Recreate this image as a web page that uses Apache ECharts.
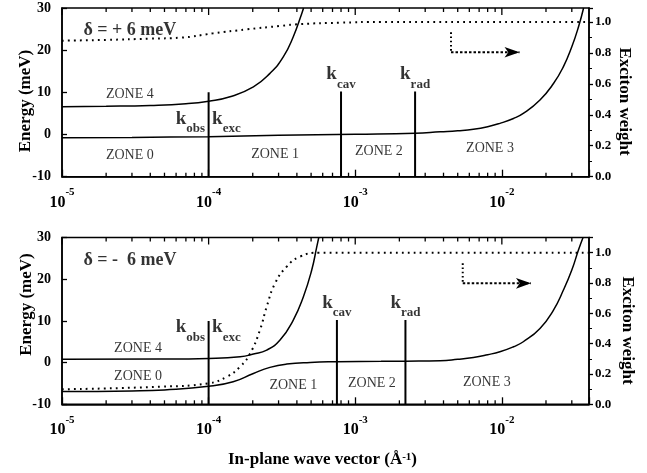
<!DOCTYPE html>
<html><head><meta charset="utf-8">
<script src="https://cdn.jsdelivr.net/npm/echarts@6/dist/echarts.min.js"></script>
<style>html,body{margin:0;padding:0;background:#fff}#chart{width:647px;height:473px}</style>
</head><body><div id="chart"></div>
<script>
// ---------------- data ----------------
const xMajorTicks = [1e-5, 1e-4, 1e-3, 1e-2];
const xMinorTicks = [2e-5,3e-5,4e-5,5e-5,6e-5,7e-5,8e-5,9e-5,
                     2e-4,3e-4,4e-4,5e-4,6e-4,7e-4,8e-4,9e-4,
                     2e-3,3e-3,4e-3,5e-3,6e-3,7e-3,8e-3,9e-3,
                     2e-2,3e-2];
const xMin = 1e-5, xMax = 0.0393;

// top panel (delta = +6 meV)
const topUpperBranch = [[1e-5,6.6],[2e-5,6.7],[4e-5,6.9],[7e-5,7.3],[1e-4,7.9],[1.4e-4,8.95],[2.02e-4,11.3],[2.62e-4,14.5],[3.23e-4,18.4],[3.78e-4,23.2],[4.32e-4,28.7],[4.44e-4,30]];
const topLowerBranch = [[1e-5,-0.75],[3e-5,-0.68],[1e-4,-0.5],[3e-4,-0.2],[1e-3,0.05],[2.56e-3,0.3],[3.8e-3,0.65],[5e-3,0.9],[6.4e-3,1.25],[8e-3,1.85],[9.7e-3,2.65],[1.2e-2,3.8],[1.4e-2,5.0],[1.82e-2,8.2],[2.25e-2,12.1],[2.63e-2,16.1],[3.0e-2,20.8],[3.33e-2,25.5],[3.61e-2,30]];
const topExcitonWeight = [[1e-5,0.879],[2e-5,0.884],[4e-5,0.892],[6.4e-5,0.898],[1.07e-4,0.926],[1.82e-4,0.952],[3.07e-4,0.974],[4.2e-4,0.986],[7.9e-4,0.995],[1.5e-3,1.0],[0.0393,1.0]];
const topMarkerK = [1e-4, 8.0e-4, 2.56e-3];
const topMarkerTopE = [10, 10.2, 10.2];
const topArrow = [[4.5e-3,0.933],[4.5e-3,0.804],[1.32e-2,0.804]];
const topZones = [['ZONE 4',2.9e-5,9.5],['ZONE 0',2.9e-5,-4.85],['ZONE 1',2.84e-4,-4.6],['ZONE 2',1.45e-3,-4.1],['ZONE 3',8.3e-3,-3.3]];
const topDetuning = ['δ = + 6 meV', 1.39e-5, 24.75];
const topObsExcE = 2.85;

// bottom panel (delta = -6 meV)
const bottomUpperBranch = [[1e-5,0.8],[4.66e-5,0.85],[1e-4,1.0],[1.64e-4,1.4],[2.02e-4,2.05],[2.49e-4,3.0],[3.07e-4,5.4],[3.78e-4,10.2],[4.43e-4,15.8],[5.05e-4,22.2],[5.46e-4,27.7],[5.64e-4,30]];
const bottomLowerBranch = [[1e-5,-6.95],[3e-5,-6.8],[5e-5,-6.55],[1e-4,-5.7],[1.47e-4,-4.6],[2.02e-4,-2.6],[2.62e-4,-1.15],[3.41e-4,-0.35],[4.92e-4,0.05],[7.48e-4,0.2],[1.5e-3,0.3],[2.2e-3,0.35],[3.79e-3,0.45],[5e-3,0.8],[6.4e-3,1.25],[8e-3,1.9],[9.7e-3,2.6],[1.2e-2,3.8],[1.4e-2,5.0],[1.82e-2,8.2],[2.25e-2,12.6],[2.63e-2,17.4],[3.0e-2,22.2],[3.33e-2,27.0],[3.58e-2,30]];
const bottomExcitonWeight = [[1e-5,0.099],[4.66e-5,0.116],[1e-4,0.139],[1.33e-4,0.182],[1.64e-4,0.248],[1.92e-4,0.336],[2.24e-4,0.49],[2.49e-4,0.644],[2.84e-4,0.798],[3.41e-4,0.908],[4.2e-4,0.974],[5.7e-4,1.0],[0.0393,1.0]];
const bottomMarkerK = [1e-4, 7.5e-4, 2.2e-3];
const bottomMarkerTopE = [10, 10.2, 10.2];
const bottomArrow = [[5.41e-3,0.93],[5.41e-3,0.798],[1.58e-2,0.798]];
const bottomZones = [['ZONE 4',3.3e-5,3.4],['ZONE 0',3.3e-5,-3.4],['ZONE 1',3.78e-4,-5.4],['ZONE 2',1.3e-3,-5.0],['ZONE 3',7.9e-3,-4.7]];
const bottomDetuning = ['δ = -  6 meV', 1.39e-5, 24.6];
const bottomObsExcE = 7.6;

const markerSubs = ['exc', 'cav', 'rad'];
const energyTicks = {min: -10, max: 30, interval: 10};
const weightTicks = {min: 0, interval: 0.2};

// ---------------- styles ----------------
const SERIF = 'Liberation Serif';
const BLACK = '#000';
const kRich = {
  k: {fontFamily: SERIF, fontWeight: 'bold', fontSize: 19, lineHeight: 26, verticalAlign: 'top', color: BLACK},
  s: {fontFamily: SERIF, fontWeight: 'bold', fontSize: 13, lineHeight: 13, verticalAlign: 'bottom', color: BLACK}
};
const supRich = {
  b: {fontFamily: SERIF, fontWeight: 'bold', fontSize: 16, lineHeight: 24, verticalAlign: 'bottom', color: BLACK},
  s: {fontFamily: SERIF, fontWeight: 'bold', fontSize: 11, lineHeight: 11, verticalAlign: 'top', color: BLACK}
};

function xAxisFor(grid) {
  return {
    type: 'log', logBase: 10, gridIndex: grid, min: xMin, max: xMax,
    axisLine: {onZero: false, lineStyle: {color: BLACK, width: 1.5}},
    axisTick: {inside: true, length: 7, lineStyle: {color: BLACK, width: 1.3}},
    splitLine: {show: false},
    axisLabel: {
      margin: 10, rich: supRich,
      formatter: v => {
        const e = Math.round(Math.log10(v));
        if (Math.abs(v - Math.pow(10, e)) / v > 1e-6) return '';
        return '{b|10}{s|' + e + '}';
      }
    }
  };
}
function energyAxis(grid) {
  return {
    type: 'value', gridIndex: grid, position: 'left', ...energyTicks,
    axisLine: {show: true, onZero: false, lineStyle: {color: BLACK, width: 1.5}},
    axisTick: {show: true, inside: true, length: 5, lineStyle: {color: BLACK, width: 1.3}},
    splitLine: {show: false},
    axisLabel: {margin: 11, fontFamily: SERIF, fontWeight: 'bold', fontSize: 14, color: BLACK}
  };
}
function weightAxis(grid, max) {
  return {
    type: 'value', gridIndex: grid, position: 'right', ...weightTicks, max: max,
    axisLine: {show: true, onZero: false, lineStyle: {color: BLACK, width: 1.5}},
    axisTick: {show: true, inside: false, length: 4, lineStyle: {color: BLACK, width: 1.3}},
    minorTick: {show: true, splitNumber: 2, length: 3, lineStyle: {color: BLACK, width: 1}},
    splitLine: {show: false},
    axisLabel: {margin: 6, showMaxLabel: false, fontFamily: SERIF, fontWeight: 'bold', fontSize: 13, color: BLACK,
      formatter: v => (Math.abs(v - Math.round(v * 10) / 10) < 1e-6 ? v.toFixed(1) : '')}
  };
}
function solid(data, xi, yi) {
  return {type: 'line', xAxisIndex: xi, yAxisIndex: yi, data: data, symbol: 'none', smooth: 0.5,
    lineStyle: {color: BLACK, width: 1.5}, silent: true, z: 3};
}
function dotted(data, xi, yi) {
  return {type: 'line', xAxisIndex: xi, yAxisIndex: yi, data: data, symbol: 'none', smooth: 0.5,
    lineStyle: {color: BLACK, width: 2, type: [1.8, 4.2]}, silent: true, z: 3};
}
function markers(ks, tops, xi, yi) {
  return ks.map((k, i) => ({type: 'line', xAxisIndex: xi, yAxisIndex: yi, symbol: 'none', silent: true, z: 4,
    data: [[k, energyTicks.min], [k, tops[i]]], lineStyle: {color: BLACK, width: 2}}));
}
function arrow(pts, xi, yi) {
  return [
    {type: 'line', xAxisIndex: xi, yAxisIndex: yi, symbol: 'none', silent: true, z: 4,
     data: [pts[0], pts[1]], lineStyle: {color: BLACK, width: 2, type: [1.6, 2.6]}},
    {type: 'line', xAxisIndex: xi, yAxisIndex: yi, symbol: 'none', showSymbol: true, silent: true, z: 4,
     data: [pts[1], {value: pts[2], symbol: 'arrow', symbolSize: [8, 15], symbolRotate: -90, itemStyle: {color: BLACK}}],
     lineStyle: {color: BLACK, width: 2, type: [2.5, 2]}}
  ];
}
function annotations(zones, det, ks, tops, obsE, xi, yi) {
  const data = [];
  zones.forEach(z => data.push({value: [z[1], z[2]], label: {show: true, position: 'inside', formatter: z[0],
    fontFamily: SERIF, fontSize: 14, color: BLACK}}));
  data.push({value: [det[1], det[2]], label: {show: true, position: 'right', distance: 0, formatter: det[0],
    fontFamily: SERIF, fontWeight: 'bold', fontSize: 18, color: BLACK}});
  data.push({value: [ks[0], obsE], label: {show: true, position: 'left', distance: 3, formatter: '{k|k}{s|obs}', rich: kRich}});
  data.push({value: [ks[0], obsE], label: {show: true, position: 'right', distance: 3, formatter: '{k|k}{s|' + markerSubs[0] + '}', rich: kRich}});
  for (let i = 1; i < ks.length; i++) {
    data.push({value: [ks[i], tops[i]], label: {show: true, position: 'top', distance: 0, formatter: '{k|k}{s|' + markerSubs[i] + '}', rich: kRich}});
  }
  return {type: 'scatter', xAxisIndex: xi, yAxisIndex: yi, symbolSize: 1, silent: true, z: 6,
    itemStyle: {color: 'rgba(0,0,0,0)'}, data: data};
}
function ticks(xi, yi) {
  const data = xMinorTicks.map(v => [v, 0]).concat(xMajorTicks.map(v => [v, 1]));
  return {type: 'custom', xAxisIndex: xi, yAxisIndex: yi, silent: true, z: 5, data: data,
    renderItem: (params, api) => {
      const k = api.value(0), major = api.value(1) === 1;
      const b = api.coord([k, energyTicks.min]);
      const t = api.coord([k, energyTicks.max]);
      const st = {stroke: BLACK, lineWidth: 1.3};
      const ch = [{type: 'line', shape: {x1: t[0], y1: t[1], x2: t[0], y2: t[1] + (major ? 7 : 4)}, style: st}];
      if (!major) ch.push({type: 'line', shape: {x1: b[0], y1: b[1], x2: b[0], y2: b[1] - 4}, style: st});
      return {type: 'group', children: ch};
    }};
}

const titleFont = 'bold 17px "Liberation Serif"';
const option = {
  animation: false,
  backgroundColor: '#fff',
  grid: [
    {left: 62, top: 8, width: 527, height: 168.7, show: true, borderColor: BLACK, borderWidth: 1.5},
    {left: 62, top: 237.5, width: 527, height: 166.8, show: true, borderColor: BLACK, borderWidth: 1.5}
  ],
  xAxis: [xAxisFor(0), xAxisFor(1)],
  yAxis: [energyAxis(0), weightAxis(0, 1.09), energyAxis(1), weightAxis(1, 1.1)],
  series: [
    solid(topUpperBranch, 0, 0), solid(topLowerBranch, 0, 0), dotted(topExcitonWeight, 0, 1),
    ...markers(topMarkerK, topMarkerTopE, 0, 0), ...arrow(topArrow, 0, 1),
    annotations(topZones, topDetuning, topMarkerK, topMarkerTopE, topObsExcE, 0, 0), ticks(0, 0),
    solid(bottomUpperBranch, 1, 2), solid(bottomLowerBranch, 1, 2), dotted(bottomExcitonWeight, 1, 3),
    ...markers(bottomMarkerK, bottomMarkerTopE, 1, 2), ...arrow(bottomArrow, 1, 3),
    annotations(bottomZones, bottomDetuning, bottomMarkerK, bottomMarkerTopE, bottomObsExcE, 1, 2), ticks(1, 2)
  ],
  graphic: [
    {type: 'text', x: 25.5, y: 101, rotation: Math.PI / 2, style: {text: 'Energy (meV)', font: titleFont, fill: BLACK, align: 'center', verticalAlign: 'middle'}},
    {type: 'text', x: 26.5, y: 304.5, rotation: Math.PI / 2, style: {text: 'Energy (meV)', font: titleFont, fill: BLACK, align: 'center', verticalAlign: 'middle'}},
    {type: 'text', x: 624.5, y: 101.5, rotation: -Math.PI / 2, style: {text: 'Exciton weight', font: titleFont, fill: BLACK, align: 'center', verticalAlign: 'middle'}},
    {type: 'text', x: 627.5, y: 330.5, rotation: -Math.PI / 2, style: {text: 'Exciton weight', font: titleFont, fill: BLACK, align: 'center', verticalAlign: 'middle'}},
    {type: 'text', x: 322.5, y: 460, style: {text: 'In-plane wave vector (Å{s|-1})', font: titleFont, fill: BLACK, align: 'center', verticalAlign: 'middle',
      rich: {s: {fontFamily: SERIF, fontWeight: 'bold', fontSize: 11, verticalAlign: 'top', lineHeight: 11}}}}
  ]
};
const chart = echarts.init(document.getElementById('chart'), null, {renderer: 'canvas'});
chart.setOption(option);
</script></body></html>
